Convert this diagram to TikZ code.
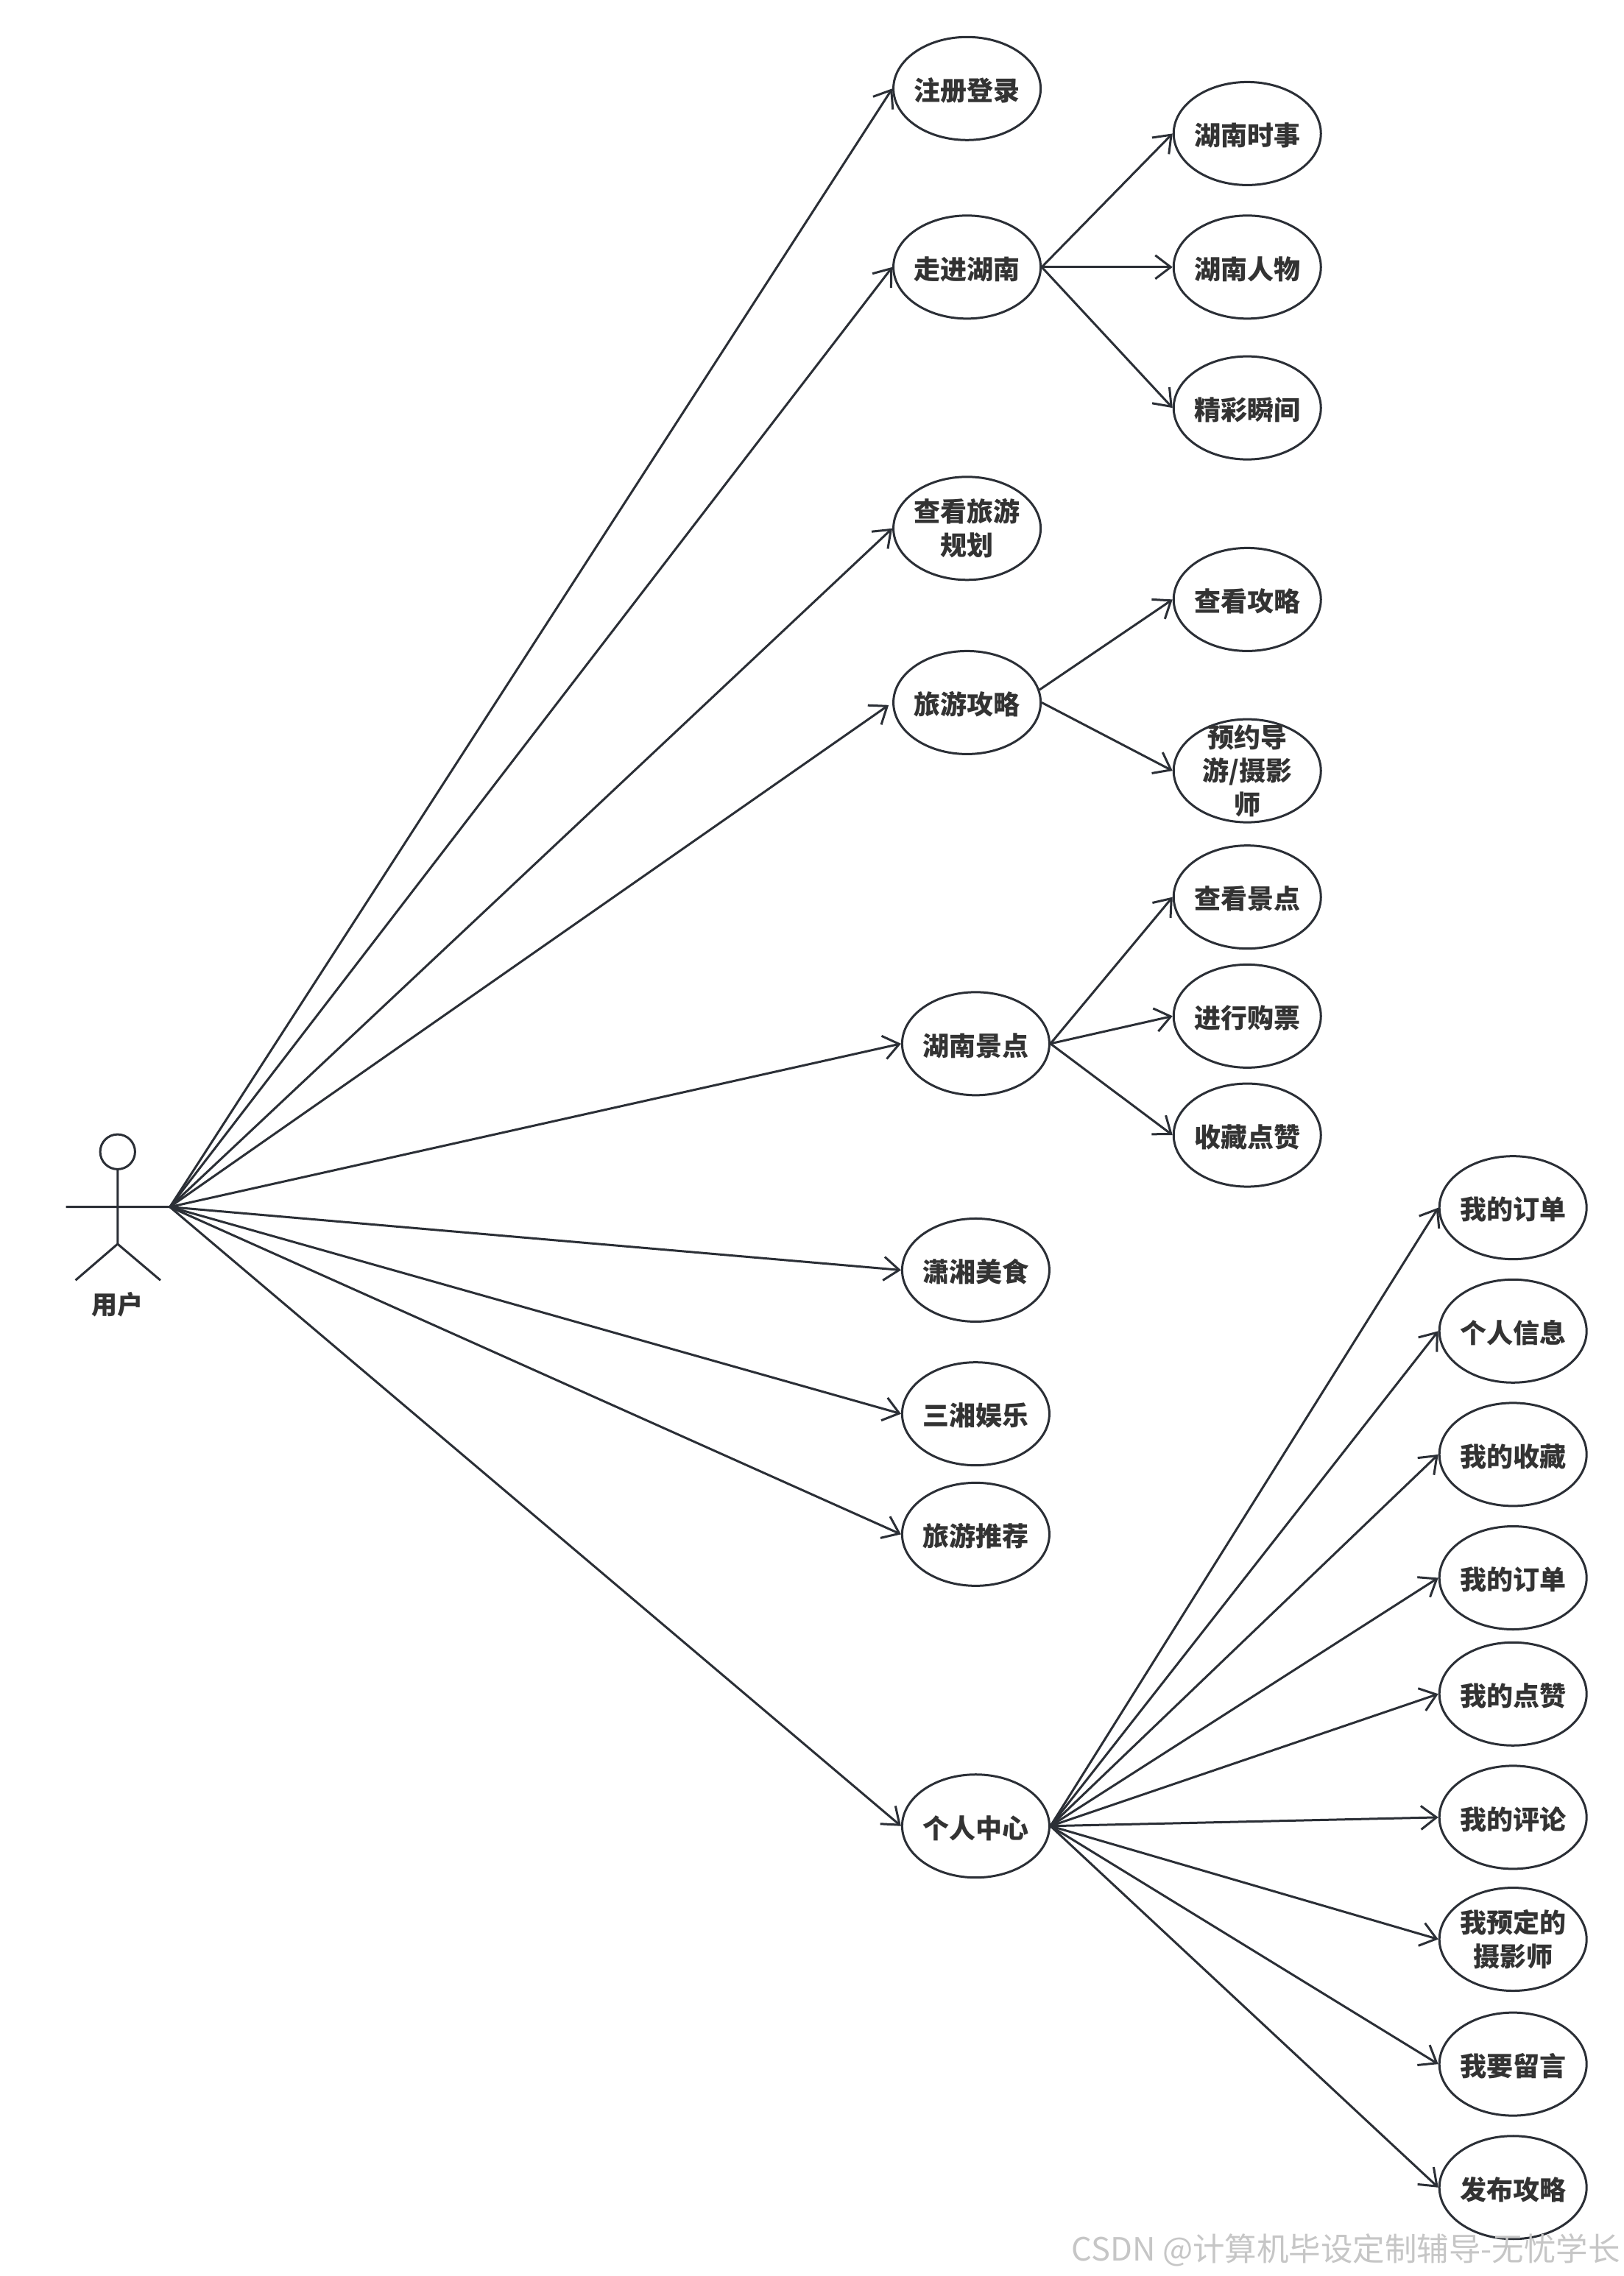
\documentclass[tikz,border=0pt]{standalone}
\usepackage{fontspec}
\usetikzlibrary{shapes.geometric,arrows.meta}
\newfontfamily\cjkbold{Noto Sans CJK SC Black}
\newfontfamily\cjkreg{Noto Sans CJK SC}
\definecolor{ink}{HTML}{2B2F36}
\definecolor{txt}{HTML}{333333}
\tikzset{
  x=1.9723pt,y=-1.9719pt,
  usecase/.style={ellipse,draw=ink,line width=3pt,fill=white,minimum width=200pt,minimum height=140pt,inner sep=-20pt,
    align=center,text=txt,font=\cjkbold\fontsize{36}{45.5}\selectfont,
    execute at begin node={\rule{0pt}{36pt}}},
  link/.style={draw=ink,line width=3pt,-{Straight Barb[length=21pt,width=32pt,line width=3pt]}},
  figure/.style={draw=ink,line width=3pt},
  caption/.style={text=txt,font=\cjkbold\fontsize{35}{40}\selectfont,inner sep=0pt},
  mark text/.style={text=gray!45,font=\cjkreg\fontsize{43.5}{50}\selectfont,inner sep=0pt,anchor=east}
}
\begin{document}
\begin{tikzpicture}
\useasboundingbox (0,0) rectangle (1118,1568);
\fill[white] (0,0) rectangle (1118,1568);
% actor
\coordinate (head) at (81,793.5);
\coordinate (neck) at (81,805.5);
\coordinate (armL) at (45.5,831.5);
\coordinate (hand) at (117,831.5);
\coordinate (hip) at (81,857);
\coordinate (legL) at (52,882);
\coordinate (legR) at (110.5,882);
\draw[figure] (head) circle[radius=12];
\draw[figure] (neck) -- (hip) (armL) -- (hand) (legL) -- (hip) -- (legR);
\node[caption] (actor) at (81,898.5) {用户};
% use cases
\node[usecase] (a1) at (666,61) {注册登录};
\node[usecase] (a2) at (666,184) {走进湖南};
\node[usecase] (a3) at (666,364) {查看旅游\\规划};
\node[usecase] (a4) at (666,484) {旅游攻略};
\node[usecase] (a5) at (672,719) {湖南景点};
\node[usecase] (a6) at (672,875) {潇湘美食};
\node[usecase] (a7) at (672,974) {三湘娱乐};
\node[usecase] (a8) at (672,1057) {旅游推荐};
\node[usecase] (a9) at (672,1258) {个人中心};
\node[usecase] (b1) at (859,92) {湖南时事};
\node[usecase] (b2) at (859,184) {湖南人物};
\node[usecase] (b3) at (859,281) {精彩瞬间};
\node[usecase] (c1) at (859,413) {查看攻略};
\node[usecase] (c2) at (859,531) {预约导\\游/摄影\\师};
\node[usecase] (d1) at (859,618) {查看景点};
\node[usecase] (d2) at (859,700) {进行购票};
\node[usecase] (d3) at (859,782) {收藏点赞};
\node[usecase] (e1) at (1042,832) {我的订单};
\node[usecase] (e2) at (1042,917) {个人信息};
\node[usecase] (e3) at (1042,1002) {我的收藏};
\node[usecase] (e4) at (1042,1087) {我的订单};
\node[usecase] (e5) at (1042,1167) {我的点赞};
\node[usecase] (e6) at (1042,1252) {我的评论};
\node[usecase] (e7) at (1042,1336) {我预定的\\摄影师};
\node[usecase] (e8) at (1042,1422) {我要留言};
\node[usecase] (e9) at (1042,1507) {发布攻略};
% connectors
\foreach \t in {a1,a2,a3,a5,a6,a7,a8,a9}{\draw[link] (hand) -- (\t.west);}
\draw[link,shorten >=6pt] (hand) -- (a4.west);
\foreach \t in {b1,b2,b3}{\draw[link] (a2.east) -- (\t.west);}
\draw[link] (a4.10) -- (c1.west);
\draw[link] (a4.east) -- (c2.west);
\foreach \t in {d1,d2,d3}{\draw[link] (a5.east) -- (\t.west);}
\foreach \t in {e1,e2,e3,e4,e5,e6,e7,e8,e9}{\draw[link] (a9.east) -- (\t.west);}
% watermark
\node[mark text] (wm) at (1116,1550) {CSDN @计算机毕设定制辅导-无忧学长};
\end{tikzpicture}
\end{document}
